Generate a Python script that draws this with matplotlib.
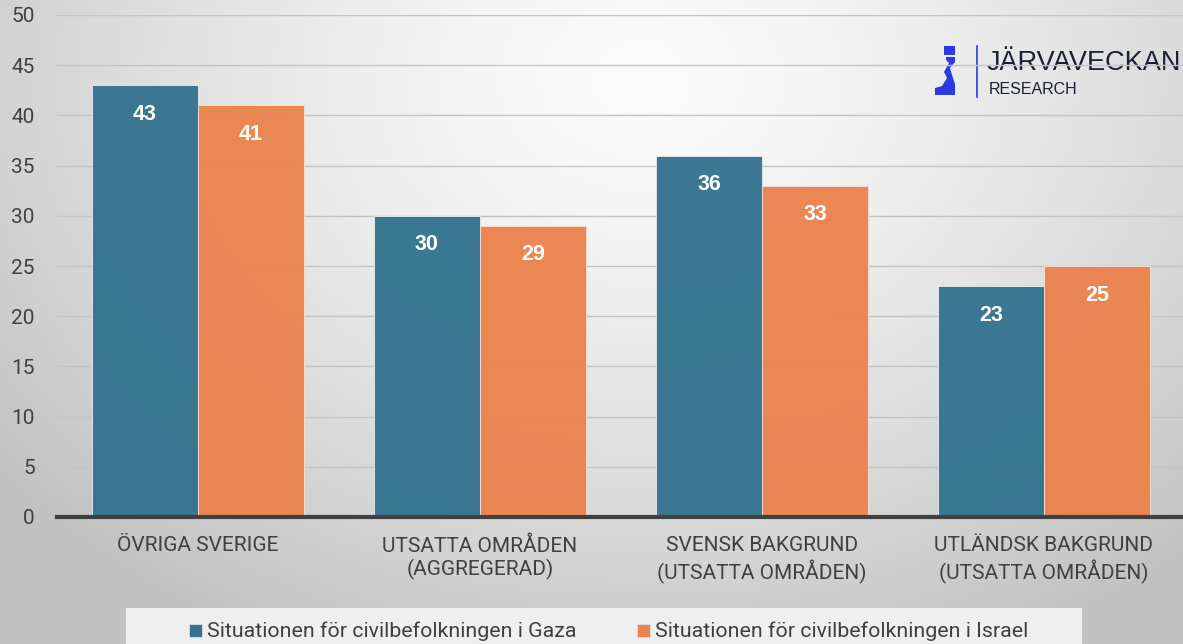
import numpy as np
import matplotlib
matplotlib.use("Agg")
import matplotlib.pyplot as plt
from matplotlib.patches import Rectangle, Polygon

categories = ["ÖVRIGA SVERIGE", "UTSATTA OMRÅDEN\n(AGGREGERAD)", "SVENSK BAKGRUND\n(UTSATTA OMRÅDEN)", "UTLÄNDSK BAKGRUND\n(UTSATTA OMRÅDEN)"]
gaza = [43, 30, 36, 23]
israel = [41, 29, 33, 25]
series_names = ["Situationen för civilbefolkningen i Gaza", "Situationen för civilbefolkningen i Israel"]
yticks = [0, 5, 10, 15, 20, 25, 30, 35, 40, 45, 50]

W, H = 1183, 644
fig = plt.figure(figsize=(W/100, H/100), dpi=100)

# radial gradient background
bg = fig.add_axes([0, 0, 1, 1], zorder=-10)
yy, xx = np.mgrid[0:H, 0:W]
d = np.sqrt(((xx - 640) / 720.0) ** 2 + ((yy - 80) / 560.0) ** 2)
v = np.clip(0.985 - 0.19 * d ** 1.4, 0.76, 1)
bg.imshow(np.dstack([v, v, v]), extent=[0, W, H, 0], aspect="auto")
bg.set_xlim(0, W); bg.set_ylim(H, 0); bg.axis("off")

# legend box
bg.add_patch(Rectangle((126, 608), 956, 40, facecolor="#efefef", edgecolor="none"))

ax = fig.add_axes([57/W, 1 - 517/H, (1185-57)/W, (517-15)/H])
ax.patch.set_alpha(0)
x = np.arange(len(categories))
bw = 0.376
c1, c2 = "#34738f", "#eb834d"
b1 = ax.bar(x - bw/2, gaza, bw, color=c1, alpha=0.96, edgecolor="#dfe8ee", linewidth=0.7, zorder=2)
b2 = ax.bar(x + bw/2, israel, bw, color=c2, alpha=0.96, edgecolor="#f6ddd0", linewidth=0.7, zorder=2)
for bars, vals in ((b1, gaza), (b2, israel)):
    for r, vv in zip(bars, vals):
        ax.text(r.get_x() + r.get_width()/2, vv - 2.9, str(vv), ha="center", va="center",
                color="white", fontsize=15.5, fontweight="bold", family="Liberation Sans", zorder=3)
ax.set_xlim(-0.5, 3.5)
ax.set_ylim(0, 50)
ax.set_yticks(yticks)
ax.yaxis.grid(True, color="#c4c4c4", linewidth=1.0, zorder=0)
ax.set_axisbelow(True)
for s in ["top", "right", "left"]:
    ax.spines[s].set_visible(False)
ax.spines["bottom"].set_color("#404040")
ax.spines["bottom"].set_linewidth(3)
ax.tick_params(axis="y", length=0, labelsize=15, labelcolor="#404040", pad=16)
ax.tick_params(axis="x", length=0, labelsize=15, labelcolor="#404040", pad=14)
ax.set_xticks(x)
ax.set_xticklabels(categories, linespacing=1.2)
for lab in ax.get_yticklabels() + ax.get_xticklabels():
    lab.set_family("Roboto")
for lab in ax.get_yticklabels():
    lab.set_horizontalalignment("right")

# legend
fam = ["Roboto", "DejaVu Sans"]
for xs, col, name in ((189, c1, series_names[0]), (637, c2, series_names[1])):
    bg.add_patch(Rectangle((xs, 624), 13, 13, facecolor=col, edgecolor="#dbe3e8", linewidth=0.6))
    bg.text(xs + 18, 631, name, ha="left", va="center", fontsize=15.4, color="#404040", family=fam)

# logo
navy = "#1b2033"
blue = "#2b3be0"
bg.add_patch(Rectangle((944, 46), 11, 9, facecolor=blue, edgecolor="none"))
bg.add_patch(Polygon([(946, 57), (955, 57), (955, 62), (950, 68), (952, 75), (955, 84), (955, 95), (935, 95),
                      (935, 88), (942, 86), (947, 78), (944, 72), (949, 63), (946, 60)],
                     closed=True, facecolor=blue, edgecolor="none"))
bg.plot([977, 977], [46, 97], color=blue, linewidth=1.2)
bg.text(987, 63, "JÄRVAVECKAN", ha="left", va="center", fontsize=19.5, color=navy, family="Liberation Sans")
bg.text(989, 89, "RESEARCH", ha="left", va="center", fontsize=11.5, color=navy, family="Liberation Sans")

fig.savefig("out.png", dpi=100)
